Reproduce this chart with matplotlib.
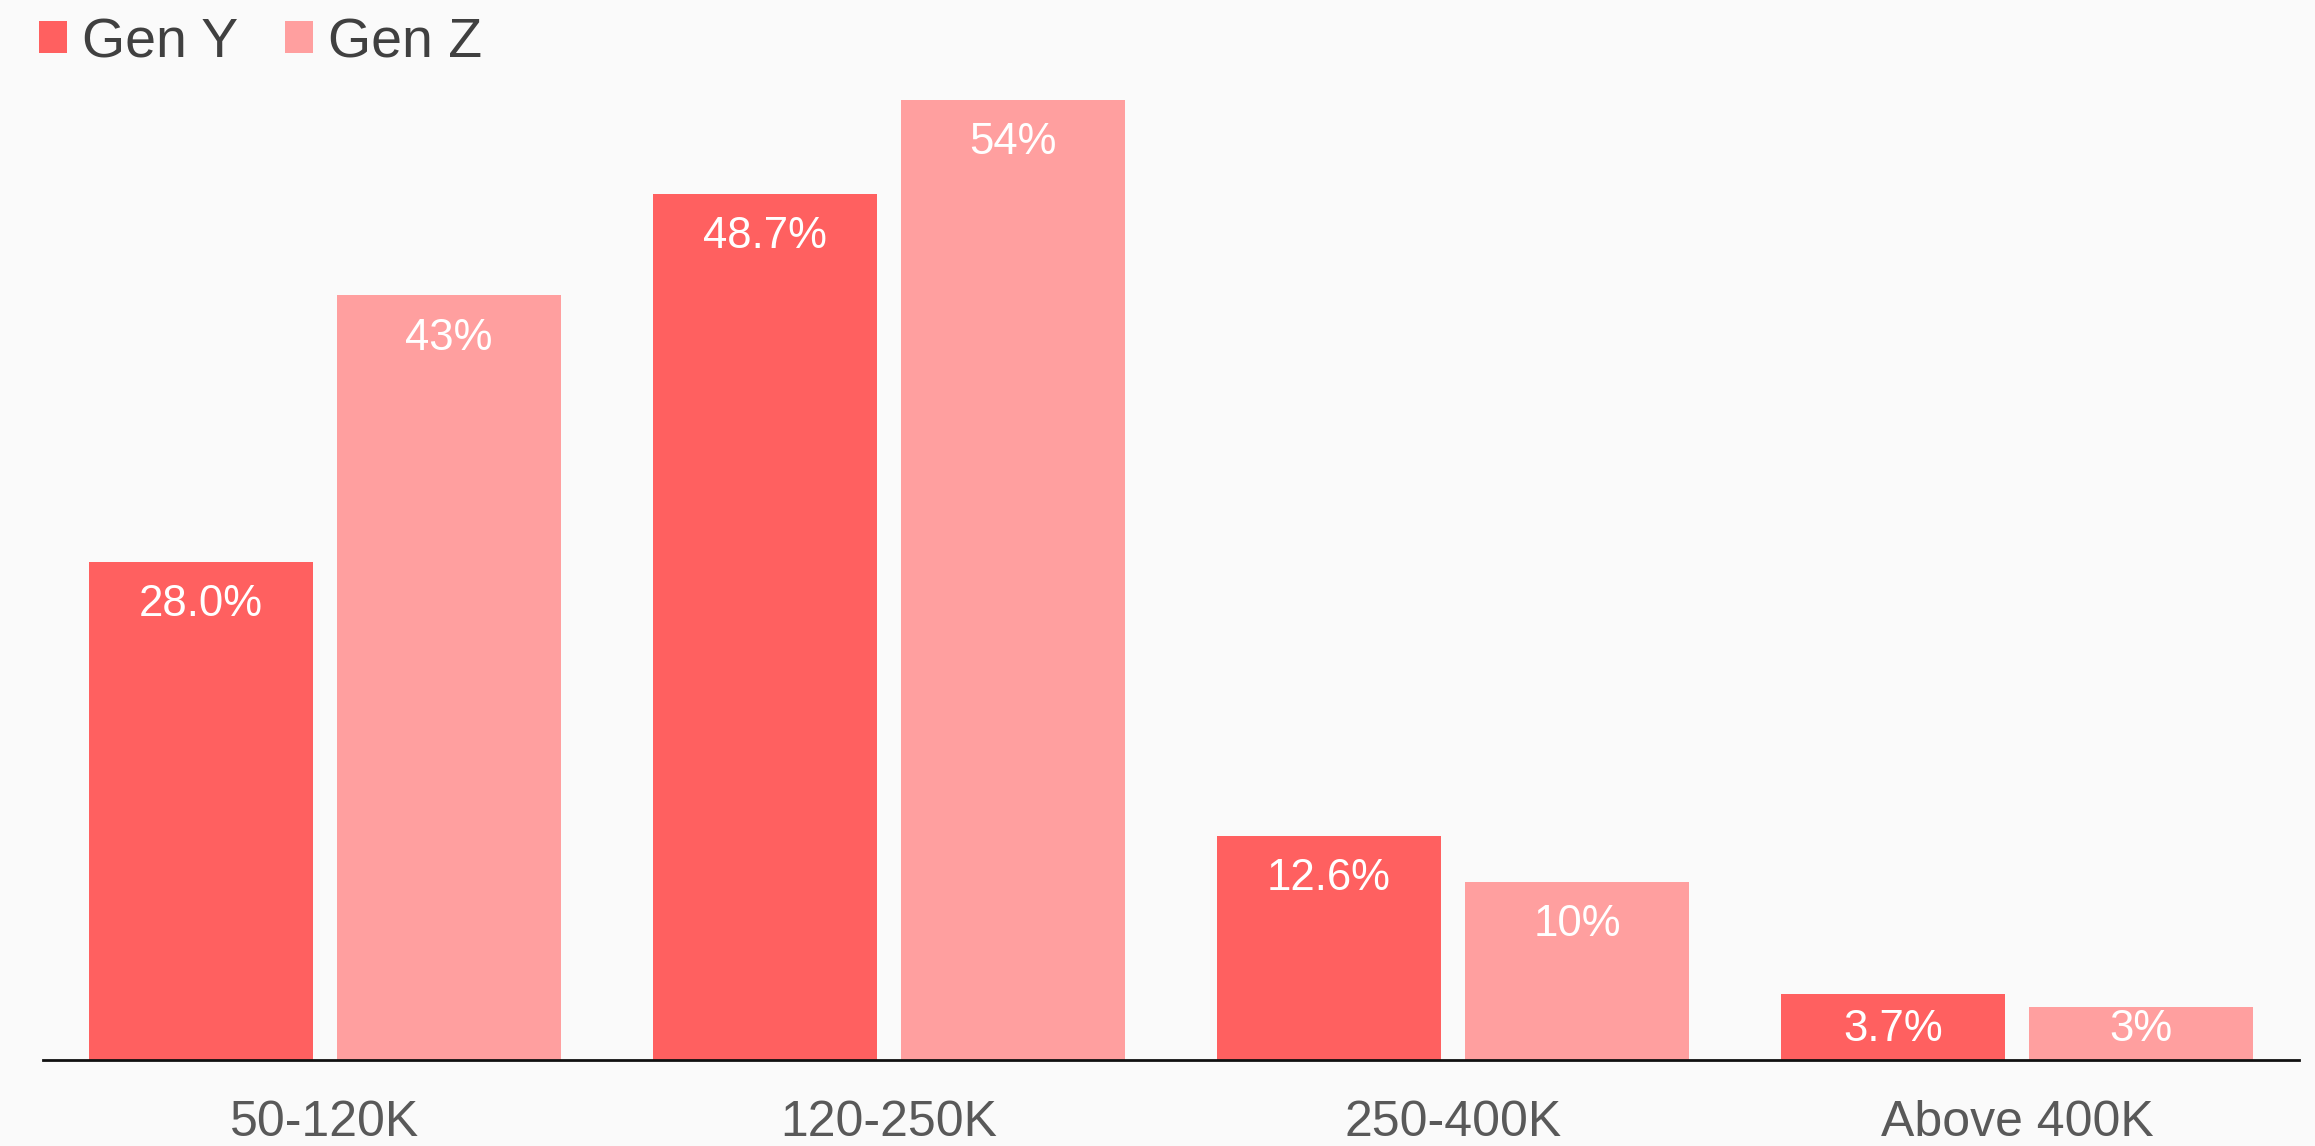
import matplotlib
matplotlib.use("Agg")
import matplotlib.pyplot as plt
import numpy as np

categories = ["50-120K", "120-250K", "250-400K", "Above 400K"]
gen_y = [28.0, 48.7, 12.6, 3.7]
gen_z = [43, 54, 10, 3]
gen_y_labels = ["28.0%", "48.7%", "12.6%", "3.7%"]
gen_z_labels = ["43%", "54%", "10%", "3%"]
series_names = ["Gen Y", "Gen Z"]

plt.rcParams["font.family"] = ["Liberation Sans", "DejaVu Sans"]

BG = "#FAFAFA"
C_Y = "#FF6060"
C_Z = "#FF9F9F"

W, H = 2315, 1146
fig = plt.figure(figsize=(W / 100, H / 100), dpi=100, facecolor=BG)

# plot area: baseline at y=1060 px, 17.78 px per percentage point
ymax = 58
left, right = 43 / W, 2299 / W
bottom = (H - 1060) / H
height = ymax * 17.78 / H
ax = fig.add_axes([left, bottom, right - left, height])
ax.set_facecolor(BG)

x = np.arange(len(categories))
bw = 0.398
off = 0.22
bars_y = ax.bar(x - off, gen_y, bw, color=C_Y, label=series_names[0])
bars_z = ax.bar(x + off, gen_z, bw, color=C_Z, label=series_names[1])

ax.set_xlim(-0.5, len(categories) - 0.5)
ax.set_ylim(0, ymax)

# value labels: text baseline just inside the bar top, never lower than a floor above the axis
inset, floor = 3.04, 1.07
for bars, labels in ((bars_y, gen_y_labels), (bars_z, gen_z_labels)):
    for b, lab in zip(bars, labels):
        ax.text(b.get_x() + b.get_width() / 2, max(b.get_height() - inset, floor),
                lab, ha="center", va="baseline", color="white", fontsize=31.5)

for s in ("top", "right", "left"):
    ax.spines[s].set_visible(False)
ax.spines["bottom"].set_color("#111111")
ax.spines["bottom"].set_linewidth(2)
ax.set_yticks([])
ax.set_xticks(x)
ax.set_xticklabels(categories, fontsize=36, color="#595959")
ax.tick_params(axis="x", length=0, pad=29)

fig.legend(handles=[bars_y, bars_z], labels=series_names,
           loc="upper left", bbox_to_anchor=(39 / W, 1 - 17 / H),
           ncol=2, frameon=False, fontsize=40, labelcolor="#404040",
           handlelength=0.5, handleheight=0.5, handletextpad=0.27,
           columnspacing=0.85, borderpad=0, borderaxespad=0)

fig.savefig("out.png", dpi=100, facecolor=BG)
